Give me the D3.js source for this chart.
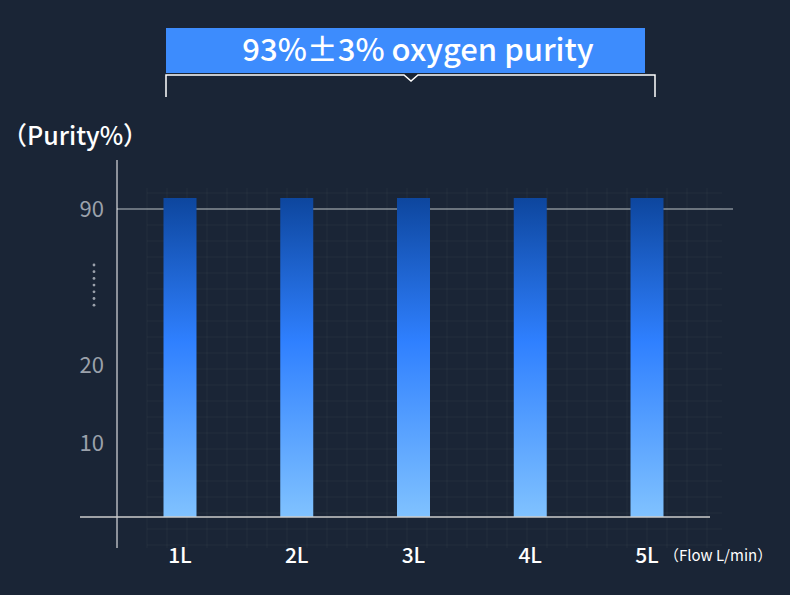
<!DOCTYPE html>
<html>
<head>
<meta charset="UTF-8" />
<script src="https://d3js.org/d3.v7.min.js"></script>
<style>body{margin:0;background:#1a2536}</style>
</head>
<body>
<svg id="chart" width="790" height="595"></svg>
<script>
// data
var flows = ["1L", "2L", "3L", "4L", "5L"]
var purity = [93, 93, 93, 93, 93]
var yTicks = [10, 20, 90]

var font = "'Noto Sans CJK SC', 'Noto Sans', sans-serif"
var svg = d3.select("#chart")
svg.append("rect").attr("width", 790).attr("height", 595).attr("fill", "#1a2536")

// broken y axis: 20..90 compressed
var y = d3.scaleLinear().domain([0, 10, 20, 90, 93]).range([517, 443, 365, 209, 198])
var x = d3.scalePoint().domain(flows).range([180, 647])

var defs = svg.append("defs")
var g = defs.append("linearGradient").attr("id", "barG").attr("x1", 0).attr("y1", 0).attr("x2", 0).attr("y2", 1)
g.append("stop").attr("offset", "0%").attr("stop-color", "#0d469e")
g.append("stop").attr("offset", "45%").attr("stop-color", "#2f80ff")
g.append("stop").attr("offset", "100%").attr("stop-color", "#80c2ff")

// faint grid
var grid = svg.append("g").attr("stroke", "rgba(255,255,255,0.045)")
d3.range(147, 725, 20).forEach(function (gx) {
  grid.append("line").attr("x1", gx).attr("x2", gx).attr("y1", 188).attr("y2", 548)
})
d3.range(193, 550, 16).forEach(function (gy) {
  grid.append("line").attr("x1", 147).attr("x2", 722).attr("y1", gy).attr("y2", gy)
})

// 90 reference line
svg.append("line").attr("x1", 117).attr("x2", 733).attr("y1", y(90)).attr("y2", y(90))
  .attr("stroke", "#b8c0c4").attr("stroke-width", 1)

// bars
svg.selectAll("rect.bar").data(purity).enter().append("rect").attr("class", "bar")
  .attr("x", function (d, i) { return x(flows[i]) - 16.5 })
  .attr("width", 33)
  .attr("y", function (d) { return y(d) })
  .attr("height", function (d) { return y(0) - y(d) })
  .attr("fill", "url(#barG)")

// axes
svg.append("line").attr("x1", 117).attr("x2", 117).attr("y1", 160).attr("y2", 548).attr("stroke", "#fff")
svg.append("line").attr("x1", 80).attr("x2", 710).attr("y1", 517).attr("y2", 517).attr("stroke", "#ccc").attr("stroke-width", 1.5)

svg.selectAll("text.yt").data(yTicks).enter().append("text")
  .attr("x", 104).attr("y", function (d) { return y(d) + 8 })
  .attr("text-anchor", "end").attr("fill", "#9ba1ab")
  .style("font", "22px " + font).text(function (d) { return d })

// axis break dots
d3.range(7).forEach(function (i) {
  svg.append("circle").attr("cx", 94).attr("cy", 265 + i * 6.7).attr("r", 1.4).attr("fill", "#9ba1ab")
})

svg.selectAll("text.xt").data(flows).enter().append("text")
  .attr("x", function (d) { return x(d) }).attr("y", 563)
  .attr("text-anchor", "middle").attr("fill", "#fff")
  .style("font", "500 21px " + font).text(function (d) { return d })

svg.append("text").attr("x", 664).attr("y", 561).attr("fill", "#fff")
  .style("font", "15px " + font).text("（Flow L/min）")
svg.append("text").attr("x", 2).attr("y", 145).attr("fill", "#fff")
  .style("font", "500 25px " + font).text("（Purity%）")

// title box + bracket
svg.append("rect").attr("x", 166).attr("y", 28).attr("width", 479).attr("height", 45).attr("fill", "#3d8cfd")
svg.append("text").attr("x", 418).attr("y", 61).attr("text-anchor", "middle").attr("fill", "#fff")
  .style("font", "500 31px " + font).text("93%±3% oxygen purity")
svg.append("path")
  .attr("d", "M166,97V75H404L411,81L418,75H655V97")
  .attr("fill", "none").attr("stroke", "#fff").attr("stroke-width", 1.5)
</script>
</body>
</html>
